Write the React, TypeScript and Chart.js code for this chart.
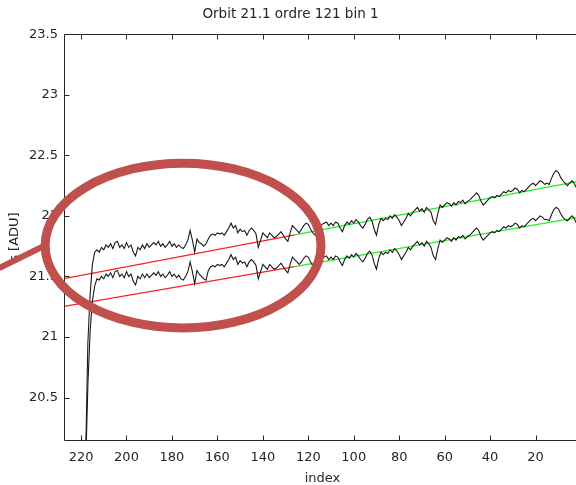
import React, { useEffect, useRef } from "react";
import { Chart, registerables } from "chart.js";

Chart.register(...registerables);

const TITLE = "Orbit 21.1 ordre 121 bin 1";
const X_LABEL = "index";
const Y_LABEL = "s [ADU]";
const X_TICKS = [220, 200, 180, 160, 140, 120, 100, 80, 60, 40, 20, 0];
const Y_TICKS = [20.5, 21, 21.5, 22, 22.5, 23, 23.5];
const X_MIN = 0;
const X_MAX = 227.5;
const Y_MIN = 20.15;
const Y_MAX = 23.5;

// first sample index; samples run downward one index at a time
const FIRST_INDEX = 218;

const upperValues = [
  20.0, 20.95, 21.35, 21.6, 21.7, 21.72, 21.7, 21.74, 21.72, 21.76,
  21.74, 21.77, 21.73, 21.78, 21.79, 21.74, 21.76, 21.73, 21.78, 21.74,
  21.76, 21.7, 21.67, 21.74, 21.72, 21.76, 21.73, 21.77, 21.74, 21.76,
  21.78, 21.76, 21.79, 21.75, 21.77, 21.74, 21.76, 21.79, 21.75, 21.77,
  21.74, 21.76, 21.74, 21.73, 21.76, 21.8, 21.88, 21.8, 21.7, 21.81,
  21.78, 21.77, 21.75, 21.77, 21.81, 21.84, 21.85, 21.84, 21.86, 21.85,
  21.86, 21.84, 21.87, 21.9, 21.94, 21.9, 21.92, 21.86, 21.89, 21.87,
  21.88, 21.84, 21.88, 21.9, 21.88, 21.85, 21.74, 21.8, 21.86, 21.84,
  21.82, 21.86, 21.84, 21.82, 21.83, 21.85, 21.87, 21.84, 21.81, 21.79,
  21.86, 21.92, 21.9, 21.88, 21.86, 21.89, 21.92, 21.94, 21.93, 21.89,
  21.86, 21.84, 21.86, 21.9, 21.93, 21.94, 21.95, 21.92, 21.94, 21.92,
  21.95, 21.94, 21.9, 21.87, 21.92, 21.95, 21.93, 21.96, 21.94, 21.97,
  21.95, 21.92, 21.9, 21.93, 21.97, 21.99, 21.96, 21.89, 21.84, 21.93,
  21.98, 21.96, 21.98, 21.97, 22.0, 21.98, 22.01, 21.99, 21.96, 21.92,
  21.95, 21.98, 22.02, 22.0, 22.03, 22.05, 22.07, 22.04, 22.06, 22.03,
  22.07, 22.05, 22.03, 21.96, 21.93, 22.02, 22.09, 22.07, 22.09, 22.11,
  22.1, 22.08, 22.11, 22.09, 22.12, 22.11, 22.13, 22.1, 22.12, 22.13,
  22.15, 22.17, 22.19, 22.17, 22.12, 22.09, 22.11, 22.13, 22.15, 22.16,
  22.15, 22.17, 22.16, 22.18, 22.2, 22.19, 22.21, 22.2, 22.21, 22.23,
  22.22, 22.19, 22.21, 22.2, 22.22, 22.24, 22.26, 22.27, 22.25, 22.27,
  22.29, 22.28, 22.26, 22.27, 22.26, 22.31, 22.35, 22.375, 22.36, 22.32,
  22.29, 22.27, 22.25, 22.27, 22.29, 22.27, 22.23, 22.2,
];

const lowerValues = [
  19.9, 20.6, 21.05, 21.3, 21.42, 21.48, 21.47, 21.5, 21.48, 21.52,
  21.5, 21.53, 21.49, 21.54, 21.55, 21.5, 21.52, 21.49, 21.54, 21.5,
  21.52, 21.46, 21.43, 21.5, 21.48, 21.52, 21.49, 21.52, 21.49, 21.51,
  21.53, 21.51, 21.54, 21.5, 21.52, 21.49, 21.51, 21.54, 21.5, 21.52,
  21.49, 21.51, 21.48, 21.47, 21.5, 21.54, 21.62, 21.54, 21.44, 21.55,
  21.52, 21.5, 21.48, 21.47, 21.55, 21.58, 21.59, 21.58, 21.6, 21.59,
  21.6, 21.58, 21.61, 21.64, 21.68, 21.64, 21.66, 21.6, 21.63, 21.61,
  21.62, 21.58, 21.62, 21.64, 21.62, 21.59, 21.48, 21.54, 21.6, 21.58,
  21.56, 21.6, 21.58, 21.56, 21.57, 21.59, 21.61, 21.58, 21.55, 21.53,
  21.6, 21.66, 21.64, 21.62, 21.6, 21.62, 21.65, 21.67, 21.66, 21.62,
  21.59, 21.57, 21.59, 21.63, 21.65, 21.66, 21.67, 21.64, 21.66, 21.64,
  21.67, 21.66, 21.62, 21.59, 21.64, 21.67, 21.65, 21.68, 21.66, 21.69,
  21.67, 21.64, 21.62, 21.65, 21.69, 21.71, 21.68, 21.61, 21.56, 21.65,
  21.7, 21.68, 21.7, 21.69, 21.72, 21.7, 21.73, 21.71, 21.68, 21.64,
  21.67, 21.7, 21.74, 21.72, 21.75, 21.77, 21.79, 21.76, 21.78, 21.75,
  21.79, 21.77, 21.74, 21.67, 21.64, 21.73, 21.8, 21.78, 21.8, 21.82,
  21.81, 21.79, 21.82, 21.8, 21.83, 21.82, 21.84, 21.81, 21.83, 21.84,
  21.86, 21.88, 21.9, 21.88, 21.83, 21.8, 21.82, 21.84, 21.86, 21.87,
  21.86, 21.88, 21.87, 21.89, 21.91, 21.9, 21.92, 21.91, 21.92, 21.94,
  21.93, 21.9, 21.92, 21.91, 21.93, 21.95, 21.97, 21.98, 21.96, 21.98,
  22.0, 21.99, 21.97, 21.97, 21.96, 22.01, 22.05, 22.07, 22.06, 22.02,
  21.99, 21.97, 21.96, 21.98, 22.0, 21.98, 21.94, 21.91,
];

// linear fits: red over the excluded part, green over the fitted part
const upperFitRed = [
  { x: 227.5, y: 21.482 },
  { x: 126, y: 21.843 },
];
const upperFitGreen = [
  { x: 126, y: 21.843 },
  { x: 0, y: 22.29 },
];
const lowerFitRed = [
  { x: 227.5, y: 21.253 },
  { x: 126, y: 21.582 },
];
const lowerFitGreen = [
  { x: 126, y: 21.582 },
  { x: 0, y: 21.992 },
];

// highlight annotation (data units)
const ELLIPSE = { cx: 175.1, cy: 21.755, rx: 60.7, ry: 0.68 };
const POINTER = [
  { x: 256, y: 21.57 },
  { x: 237, y: 21.745 },
];

const FONT = "'DejaVu Sans', sans-serif";
const TEXT = "#262626";

function toPoints(values: number[]) {
  return values.map((v, i) => ({ x: FIRST_INDEX - i, y: v }));
}

const decorPlugin = {
  id: "decor",
  beforeDraw(chart: any) {
    const { ctx, width, height } = chart;
    ctx.save();
    ctx.fillStyle = "#ffffff";
    ctx.fillRect(0, 0, width, height);
    ctx.restore();
  },
  afterDatasetsDraw(chart: any) {
    const { ctx, chartArea: a, scales } = chart;
    const xs = scales.x;
    const ys = scales.y;
    const L = Math.round(a.left) + 0.5;
    const R = Math.round(a.right) + 0.5;
    const T = Math.round(a.top) + 0.5;
    const B = Math.round(a.bottom) + 0.5;
    ctx.save();
    ctx.strokeStyle = TEXT;
    ctx.lineWidth = 1;
    ctx.beginPath();
    ctx.rect(L, T, R - L, B - T);
    const tl = 5;
    for (const v of X_TICKS) {
      const px = Math.round(xs.getPixelForValue(v)) + 0.5;
      ctx.moveTo(px, B);
      ctx.lineTo(px, B - tl);
      ctx.moveTo(px, T);
      ctx.lineTo(px, T + tl);
    }
    for (const v of Y_TICKS) {
      const py = Math.round(ys.getPixelForValue(v)) + 0.5;
      ctx.moveTo(L, py);
      ctx.lineTo(L + tl, py);
      ctx.moveTo(R, py);
      ctx.lineTo(R - tl, py);
    }
    ctx.stroke();
    ctx.restore();
  },
  afterDraw(chart: any) {
    const { ctx, scales } = chart;
    const xs = scales.x;
    const ys = scales.y;
    const cx = xs.getPixelForValue(ELLIPSE.cx);
    const cy = ys.getPixelForValue(ELLIPSE.cy);
    const rx = Math.abs(xs.getPixelForValue(ELLIPSE.cx + ELLIPSE.rx) - cx);
    const ry = Math.abs(ys.getPixelForValue(ELLIPSE.cy + ELLIPSE.ry) - cy);
    ctx.save();
    ctx.strokeStyle = "#c0504d";
    ctx.lineWidth = 6;
    ctx.lineCap = "butt";
    ctx.beginPath();
    ctx.moveTo(xs.getPixelForValue(POINTER[0].x), ys.getPixelForValue(POINTER[0].y));
    ctx.lineTo(xs.getPixelForValue(POINTER[1].x), ys.getPixelForValue(POINTER[1].y));
    ctx.stroke();
    ctx.lineWidth = 9;
    ctx.beginPath();
    ctx.ellipse(cx, cy, rx, ry, 0, 0, Math.PI * 2);
    ctx.stroke();
    ctx.restore();
  },
};

export default function App() {
  const ref = useRef<HTMLCanvasElement | null>(null);

  useEffect(() => {
    if (!ref.current) return;
    const lineStyle = (color: string, w: number) => ({
      borderColor: color,
      backgroundColor: color,
      borderWidth: w,
      pointRadius: 0,
      fill: false,
      tension: 0,
    });
    const chart = new Chart(ref.current, {
      type: "line",
      data: {
        datasets: [
          { label: "upper", data: toPoints(upperValues), ...lineStyle("#1a1a1a", 1.1) },
          { label: "lower", data: toPoints(lowerValues), ...lineStyle("#1a1a1a", 1.1) },
          { label: "upperFitRed", data: upperFitRed, ...lineStyle("#ff2020", 1.3) },
          { label: "upperFitGreen", data: upperFitGreen, ...lineStyle("#22ee22", 1.3) },
          { label: "lowerFitRed", data: lowerFitRed, ...lineStyle("#ff2020", 1.3) },
          { label: "lowerFitGreen", data: lowerFitGreen, ...lineStyle("#22ee22", 1.3) },
        ],
      },
      options: {
        responsive: false,
        animation: false,
        devicePixelRatio: 1,
        parsing: false as any,
        layout: { padding: { left: 0, right: 9, top: 0, bottom: 0 } },
        plugins: {
          legend: { display: false },
          tooltip: { enabled: false },
          title: {
            display: true,
            text: TITLE,
            color: TEXT,
            font: { family: FONT, size: 13.5, weight: "normal" },
            padding: { top: 6, bottom: 12 },
          },
        },
        scales: {
          x: {
            type: "linear",
            reverse: true,
            min: X_MIN,
            max: X_MAX,
            grid: { display: false, drawTicks: false },
            border: { display: false },
            afterBuildTicks: (s: any) => {
              s.ticks = X_TICKS.map((v) => ({ value: v }));
            },
            afterFit: (s: any) => {
              s.height = 45;
              s.paddingLeft = 0;
              s.paddingRight = 0;
            },
            ticks: {
              color: TEXT,
              font: { family: FONT, size: 13 },
              padding: 10,
              maxRotation: 0,
              autoSkip: false,
              callback: (v: any) => String(v),
            },
            title: {
              display: true,
              text: X_LABEL,
              color: TEXT,
              font: { family: FONT, size: 13, lineHeight: 1.0 },
              padding: { top: 0, bottom: 0 },
            },
          },
          y: {
            type: "linear",
            min: Y_MIN,
            max: Y_MAX,
            grid: { display: false, drawTicks: false },
            border: { display: false },
            afterBuildTicks: (s: any) => {
              s.ticks = Y_TICKS.map((v) => ({ value: v }));
            },
            afterFit: (s: any) => {
              s.width = 64;
            },
            ticks: {
              color: TEXT,
              font: { family: FONT, size: 13 },
              padding: 6,
              autoSkip: false,
              callback: (v: any) => String(v),
            },
            title: {
              display: true,
              text: Y_LABEL,
              color: TEXT,
              font: { family: FONT, size: 13 },
              padding: { top: 7, bottom: 0 },
            },
          },
        },
      },
      plugins: [decorPlugin],
    });
    return () => chart.destroy();
  }, []);

  return (
    <div
      style={{
        position: "absolute",
        left: 0,
        top: 0,
        width: 576,
        height: 485,
        overflow: "hidden",
        background: "#fff",
      }}
    >
      <canvas ref={ref} width={590} height={485} style={{ width: 590, height: 485, display: "block" }} />
    </div>
  );
}
